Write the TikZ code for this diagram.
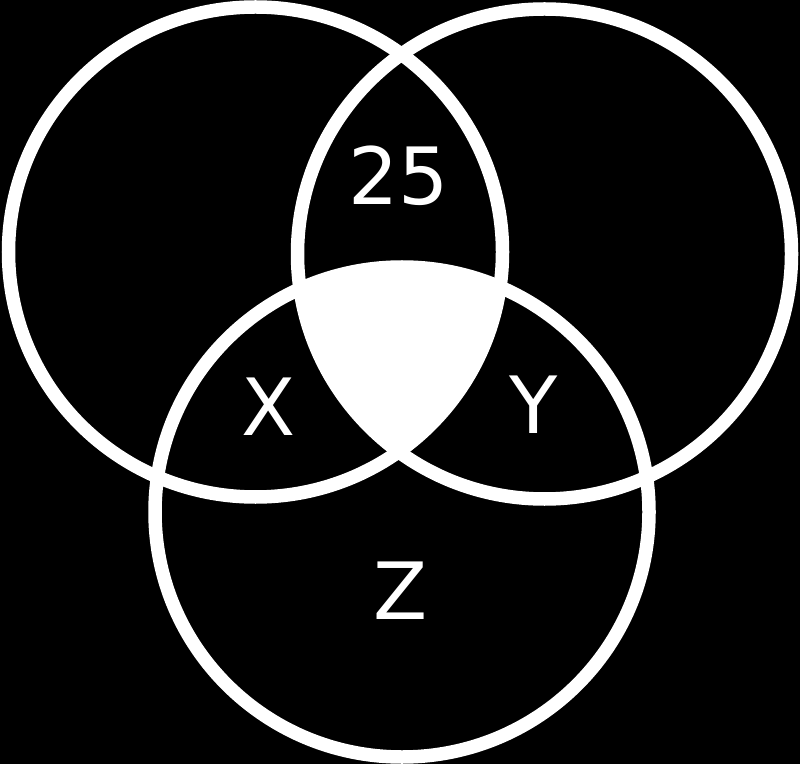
\documentclass[tikz,border=0pt]{standalone}
\usepackage{fontspec}
\setmainfont{DejaVu Sans}
\usetikzlibrary{shapes.geometric}
\begin{document}
\begin{tikzpicture}[x=1pt,y=1pt,
  ring/.style={ellipse,draw=white,line width=13.5pt,minimum width=494pt,minimum height=490pt,inner sep=0pt},
  lbl/.style={text=white,inner sep=0pt,font=\fontsize{79}{81}\selectfont}]
\fill[black] (0,0) rectangle (800,764);
\useasboundingbox (0,0) rectangle (800,764);
\begin{scope}
  \clip (255.5,512) ellipse (247 and 245);
  \clip (544.5,510) ellipse (247 and 245);
  \fill[white] (402,252) ellipse (247 and 245);
\end{scope}
\node[ring] (A) at (255.5,512) {};
\node[ring] (B) at (544.5,510) {};
\node[ring] (C) at (402,252) {};
\node[lbl] (n25) at (399,588) {25};
\node[lbl] (x) at (269,357) {X};
\node[lbl] (y) at (534,359) {Y};
\node[lbl] (z) at (401,173) {Z};
\end{tikzpicture}
\end{document}
